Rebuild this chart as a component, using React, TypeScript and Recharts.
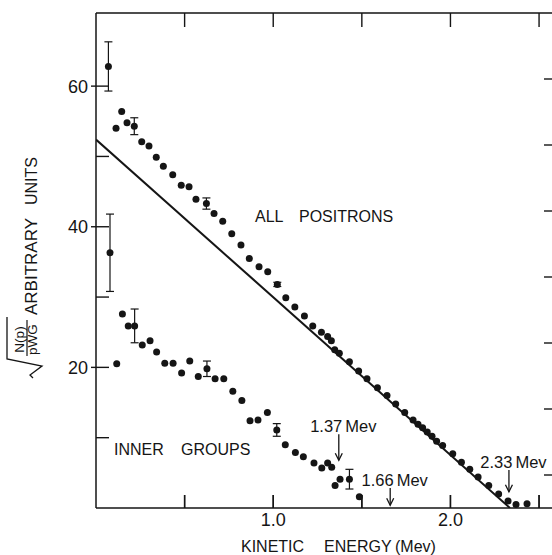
import React from "react";
import { ComposedChart, Scatter, Line, XAxis, YAxis, ErrorBar, ReferenceLine } from "recharts";

const INK = "#151515";
const FONT = '"Liberation Sans", Arial, Helvetica, sans-serif';

// all positrons: kinetic energy (Mev) vs sqrt(N(p)/pWG), arbitrary units
const positronE = [
  0.113, 0.145, 0.175, 0.258, 0.299, 0.34, 0.38, 0.433, 0.481, 0.525, 0.564, 0.666,
  0.715, 0.766, 0.818, 0.865, 0.92, 0.969, 1.071, 1.122, 1.176, 1.223, 1.272, 1.307,
  1.328, 1.347, 1.373, 1.43, 1.482, 1.529, 1.588, 1.642, 1.691, 1.742, 1.789, 1.817,
  1.843, 1.869, 1.896, 1.922, 1.956, 2.013, 2.062, 2.109, 2.156, 2.216, 2.272, 2.325,
  2.37, 2.432,
];
const positronV = [
  54.0, 56.4, 54.8, 52.1, 51.5, 49.9, 48.6, 47.4, 45.9, 45.7, 43.9, 41.9,
  40.8, 39.0, 37.4, 35.5, 34.3, 33.6, 29.9, 28.6, 27.3, 25.9, 25.0, 24.4,
  23.8, 22.5, 22.0, 20.8, 19.5, 18.4, 17.1, 16.0, 14.8, 13.6, 12.5, 11.9,
  11.4, 10.8, 10.2, 9.5, 8.9, 7.7, 6.5, 5.5, 4.4, 3.2, 2.0, 1.0,
  0.5, 0.6,
];
// positron points drawn with error bars
const positronErrE = [0.07, 0.216, 0.623, 1.023];
const positronErrV = [62.8, 54.3, 43.3, 31.8];
const positronErrSize = [3.5, 1.2, 0.8, 0.3];

// inner groups
const innerE = [
  0.117, 0.149, 0.182, 0.261, 0.305, 0.342, 0.388, 0.435, 0.483, 0.529, 0.577, 0.672,
  0.721, 0.772, 0.823, 0.869, 0.914, 0.967, 1.068, 1.125, 1.17, 1.23, 1.274, 1.307,
  1.33, 1.349, 1.377, 1.486,
];
const innerV = [
  20.5, 27.6, 25.9, 23.2, 23.8, 22.2, 20.6, 20.6, 19.2, 20.9, 18.7, 18.4,
  18.4, 16.6, 15.3, 12.4, 12.5, 13.6, 9.0, 7.9, 7.3, 6.4, 5.7, 6.4,
  5.8, 3.2, 4.1, 1.6,
];
const innerErrE = [0.079, 0.218, 0.626, 1.02, 1.43];
const innerErrV = [36.3, 25.9, 19.8, 11.1, 4.1];
const innerErrSize = [5.5, 2.4, 1.1, 0.9, 1.4];

// straight Kurie line
const fitE = [0, 2.336];
const fitV = [52.4, 0];

// end points marked with arrows
const endpointE = [1.37, 1.66, 2.33];
const endpointText = ["1.37", "1.66", "2.33"];
const arrowTop = [10.5, 2.85, 5.4];
const arrowBottom = [6.8, 0.4, 2.3];

const X_MAX = 2.573;
const Y_MAX = 70.4;
const xTicks = [0.5, 1, 1.5, 2, 2.5];
const xTickText: Record<number, string> = { 1: "1.0", 2: "2.0" };
const yTicks = [10, 20, 30, 40, 50, 60];
const yTickText: Record<number, string> = { 20: "20", 40: "40", 60: "60" };
const rightTicks = [1, 2, 3, 4, 5, 6, 7];

// plot box in page pixels (chart 553 wide, y axis 96, x axis 47, top margin 13)
const PLOT_LEFT = 96;
const PLOT_RIGHT = 552;
const PLOT_TOP = 13;
const PLOT_BOTTOM = 508;
const frameX = (t: number) => PLOT_LEFT + (t / X_MAX) * (PLOT_RIGHT - PLOT_LEFT);

const positrons = positronE.map((e, i) => ({ e, v: positronV[i] }));
const positronsErr = positronErrE.map((e, i) => ({ e, v: positronErrV[i], err: positronErrSize[i] }));
const inner = innerE.map((e, i) => ({ e, v: innerV[i] }));
const innerErr = innerErrE.map((e, i) => ({ e, v: innerErrV[i], err: innerErrSize[i] }));
const fit = fitE.map((e, i) => ({ e, v: fitV[i] }));

const Dot = (p: any) => <circle cx={p.cx} cy={p.cy} r={3.5} fill={INK} />;
const Hidden = () => <g />;

const BottomTick = (p: any) => {
  const { x, y, payload } = p;
  const lab = xTickText[payload.value];
  return (
    <g>
      <rect x={Number(x) - 0.7} y={Number(y) - 13} width={1.4} height={13} fill={INK} />
      {lab && (
        <text x={x} y={Number(y) + 18} textAnchor="middle" fontSize={18} fill={INK} fontFamily={FONT}>
          {lab}
        </text>
      )}
    </g>
  );
};

const LeftTick = (p: any) => {
  const { x, y, payload } = p;
  const lab = yTickText[payload.value];
  return (
    <g>
      <line x1={lab ? x - 5 : x} x2={x + 13} y1={y} y2={y} stroke={INK} strokeWidth={1.4} />
      {lab && (
        <text x={x - 8} y={y + 6.5} textAnchor="end" fontSize={18} fill={INK} fontFamily={FONT}>
          {lab}
        </text>
      )}
    </g>
  );
};

const RightTick = (p: any) => (
  <line x1={p.x} x2={p.x - 8} y1={p.y} y2={p.y} stroke={INK} strokeWidth={1.4} />
);

const arrowShape = (num: string) => (p: any) => {
  const { x1, y1, x2, y2 } = p;
  return (
    <g>
      <line x1={x1} y1={y1} x2={x2} y2={y2} stroke={INK} strokeWidth={1.3} />
      <polyline
        points={`${x2 - 3.5},${y2 - 7} ${x2},${y2} ${x2 + 3.5},${y2 - 7}`}
        fill="none"
        stroke={INK}
        strokeWidth={1.3}
      />
      <text x={x1 + 3.5} y={y1 - 2} textAnchor="end" fontSize={16.5} fill={INK} fontFamily={FONT}>
        {num}
      </text>
      <text x={x1 + 6.5} y={y1 - 2} fontSize={16.5} fill={INK} fontFamily={FONT}>
        Mev
      </text>
    </g>
  );
};

// rotated y title: sqrt(N(p)/pWG) ARBITRARY UNITS
function YTitle() {
  return (
    <g transform="translate(0, 378) rotate(-90)" fill={INK} fontFamily={FONT}>
      <polyline points="0,33 3,30 12,42 19,7 61,7" fill="none" stroke={INK} strokeWidth={1.3} />
      <text x={38.5} y={24} textAnchor="middle" fontSize={13.5}>N(p)</text>
      <line x1={22} x2={58} y1={27} y2={27} stroke={INK} strokeWidth={1.2} />
      <text x={38.5} y={36.5} textAnchor="middle" fontSize={13.5}>pWG</text>
      <text x={63} y={37} fontSize={17}>ARBITRARY</text>
      <text x={173} y={37} fontSize={16}>UNITS</text>
    </g>
  );
}

// top frame edge and the inward energy ticks on top and bottom, as filled strips
function Frame() {
  return (
    <g>
      <rect x={PLOT_LEFT} y={PLOT_TOP - 0.75} width={PLOT_RIGHT - PLOT_LEFT} height={1.5} fill={INK} />
      {xTicks.map((t) => (
        <g key={t}>
          <rect x={frameX(t) - 0.7} y={PLOT_TOP} width={1.4} height={14} fill={INK} />
          <rect x={frameX(t) - 0.7} y={PLOT_BOTTOM - 13} width={1.4} height={13} fill={INK} />
        </g>
      ))}
    </g>
  );
}

export default function App() {
  return (
    <div style={{ position: "absolute", left: 0, top: 0, width: 552, height: 555, overflow: "hidden", background: "#fff" }}>
      <ComposedChart width={553} height={555} margin={{ top: 13, right: 0, bottom: 0, left: 0 }}>
        <XAxis
          xAxisId="bottom"
          type="number"
          dataKey="e"
          domain={[0, X_MAX]}
          ticks={xTicks}
          height={47}
          tickSize={0}
          tickMargin={0}
          tickLine={false}
          tick={<BottomTick />}
          axisLine={{ stroke: INK, strokeWidth: 1.5 }}
          allowDataOverflow
        />
        <YAxis
          yAxisId="left"
          type="number"
          dataKey="v"
          domain={[0, Y_MAX]}
          ticks={yTicks}
          width={96}
          tickSize={0}
          tickMargin={0}
          tickLine={false}
          tick={<LeftTick />}
          axisLine={{ stroke: INK, strokeWidth: 1.5 }}
          allowDataOverflow
        />
        <YAxis
          yAxisId="right"
          orientation="right"
          type="number"
          dataKey="v"
          domain={[0.5, 8.0]}
          ticks={rightTicks}
          width={1}
          tickSize={0}
          tickMargin={0}
          tickLine={false}
          tick={<RightTick />}
          axisLine={false}
          allowDataOverflow
        />
        {/* invisible series that keeps the right frame axis alive */}
        <Scatter data={fit} xAxisId="bottom" yAxisId="right" dataKey="v" shape={Hidden} isAnimationActive={false} />
        <Line
          data={fit}
          xAxisId="bottom"
          yAxisId="left"
          dataKey="v"
          type="linear"
          dot={false}
          stroke={INK}
          strokeWidth={2}
          isAnimationActive={false}
        />
        <Scatter data={positrons} xAxisId="bottom" yAxisId="left" dataKey="v" shape={Dot} isAnimationActive={false} />
        <Scatter data={positronsErr} xAxisId="bottom" yAxisId="left" dataKey="v" shape={Dot} isAnimationActive={false}>
          <ErrorBar dataKey="err" direction="y" width={4} stroke={INK} strokeWidth={1.2} />
        </Scatter>
        <Scatter data={inner} xAxisId="bottom" yAxisId="left" dataKey="v" shape={Dot} isAnimationActive={false} />
        <Scatter data={innerErr} xAxisId="bottom" yAxisId="left" dataKey="v" shape={Dot} isAnimationActive={false}>
          <ErrorBar dataKey="err" direction="y" width={4} stroke={INK} strokeWidth={1.2} />
        </Scatter>
        {endpointE.map((e, i) => (
          <ReferenceLine
            key={e}
            xAxisId="bottom"
            yAxisId="left"
            segment={[
              { x: e, y: arrowTop[i] },
              { x: e, y: arrowBottom[i] },
            ]}
            shape={arrowShape(endpointText[i])}
          />
        ))}
      </ComposedChart>
      <svg
        width={552}
        height={555}
        style={{ position: "absolute", left: 0, top: 0, pointerEvents: "none" }}
        fontFamily={FONT}
      >
        <Frame />
        <YTitle />
        <text y={222} fontSize={16} fill={INK}>
          <tspan x={255}>ALL</tspan>
          <tspan x={299}>POSITRONS</tspan>
        </text>
        <text y={455} fontSize={16} fill={INK}>
          <tspan x={114}>INNER</tspan>
          <tspan x={181}>GROUPS</tspan>
        </text>
        <text y={552} fontSize={16} fill={INK}>
          <tspan x={241}>KINETIC</tspan>
          <tspan x={324}>ENERGY</tspan>
          <tspan x={395}>(Mev)</tspan>
        </text>
      </svg>
    </div>
  );
}
